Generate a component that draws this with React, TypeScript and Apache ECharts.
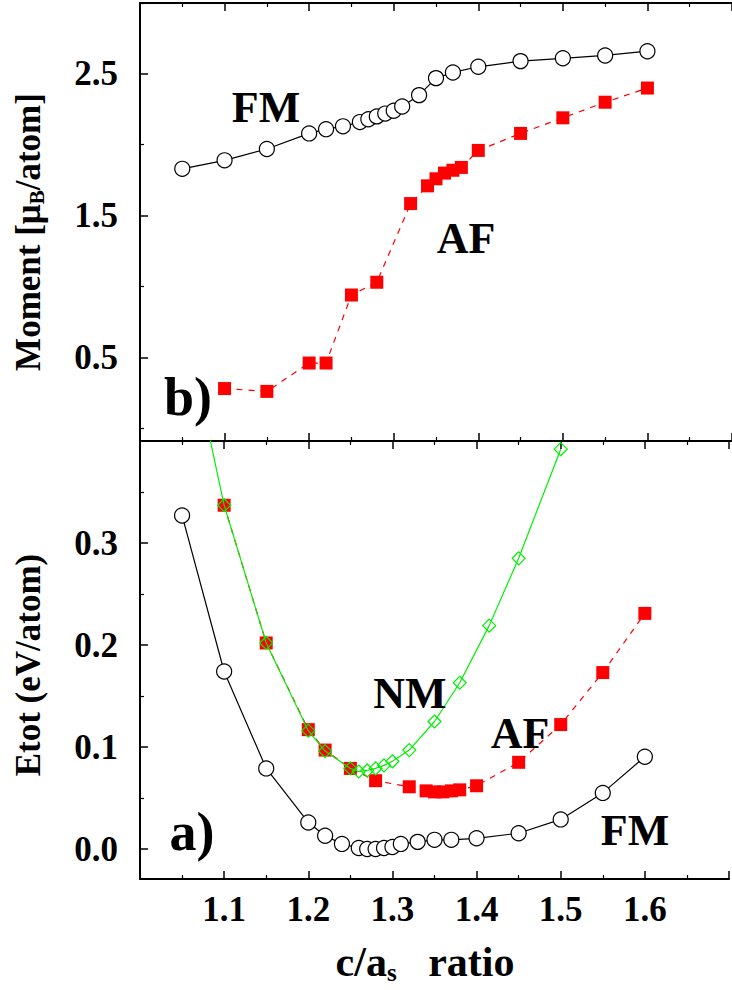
import React, { useEffect, useRef } from "react";
import * as echarts from "echarts";

// ---- data ----
const fmX = [1.05, 1.1, 1.15, 1.2, 1.22, 1.24, 1.26, 1.27, 1.28, 1.29, 1.3, 1.31, 1.33, 1.35, 1.37, 1.4, 1.45, 1.5, 1.55, 1.6];
const fmMoment = [1.83, 1.89, 1.97, 2.08, 2.11, 2.13, 2.16, 2.18, 2.2, 2.22, 2.24, 2.27, 2.35, 2.47, 2.51, 2.55, 2.59, 2.61, 2.63, 2.66];
const fmEnergy = [0.327, 0.174, 0.079, 0.026, 0.013, 0.005, 0.001, 0.0, 0.0, 0.001, 0.002, 0.005, 0.007, 0.009, 0.009, 0.0105, 0.0155, 0.029, 0.055, 0.0905];

const afX = [1.1, 1.15, 1.2, 1.22, 1.25, 1.28, 1.32, 1.34, 1.35, 1.36, 1.37, 1.38, 1.4, 1.45, 1.5, 1.55, 1.6];
const afMoment = [0.28, 0.26, 0.46, 0.46, 0.94, 1.03, 1.585, 1.71, 1.76, 1.8, 1.82, 1.84, 1.96, 2.08, 2.19, 2.3, 2.4];
const afEnergy = [0.337, 0.202, 0.117, 0.097, 0.079, 0.067, 0.061, 0.057, 0.056, 0.056, 0.057, 0.058, 0.062, 0.085, 0.122, 0.173, 0.231];

const nmX = [1.05, 1.1, 1.15, 1.2, 1.22, 1.25, 1.26, 1.27, 1.28, 1.29, 1.3, 1.32, 1.35, 1.38, 1.415, 1.45, 1.5];
const nmEnergy = [0.53, 0.337, 0.202, 0.116, 0.096, 0.079, 0.076, 0.077, 0.079, 0.082, 0.086, 0.097, 0.125, 0.163, 0.219, 0.285, 0.392];

const momentMajor = [0.5, 1.5, 2.5];
const momentMinor = [0, 1, 2, 3];
const energyMajor = [0, 0.1, 0.2, 0.3, 0.4];
const energyLabels = [0, 0.1, 0.2, 0.3];
const energyMinor = [0.05, 0.15, 0.25, 0.35];

const SERIF = "'Liberation Serif', 'Times New Roman', Times, serif";
const RED = "#ff0000";
const GREEN = "#00f000";

const zip = (xs: number[], ys: number[]) => xs.map((x, i) => [x, ys[i]]);

export default function App() {
  const ref = useRef<HTMLDivElement>(null);
  useEffect(() => {
    document.body.style.margin = "0";
    const chart = echarts.init(ref.current!, null, { renderer: "svg" });
    const axisLine = { show: true, onZero: false, lineStyle: { color: "#000", width: 2 } };
    const xBase = (gridIndex: number, position: string, labels: boolean) => ({
      type: "value",
      gridIndex,
      position,
      min: 1.0,
      max: 1.7,
      interval: 0.1,
      axisLine,
      axisTick: { show: true, inside: true, length: 8, lineStyle: { color: "#000", width: 1.5 } },
      minorTick: { show: true, splitNumber: 2, length: 4, lineStyle: { color: "#000", width: 1.2 } },
      splitLine: { show: false },
      axisLabel: labels
        ? {
            show: true,
            margin: 13,
            fontFamily: SERIF,
            fontWeight: "bold",
            fontSize: 35,
            color: "#000",
            formatter: (v: number) => (v > 1.05 && v < 1.65 ? v.toFixed(1) : ""),
          }
        : { show: false },
    });
    const yMajor = (gridIndex: number, min: number, max: number, ticks: number[], labels: number[]) => ({
      type: "value",
      gridIndex,
      position: "left",
      min,
      max,
      axisLine,
      axisTick: { show: true, inside: true, length: 8, customValues: ticks, lineStyle: { color: "#000", width: 1.5 } },
      splitLine: { show: false },
      axisLabel: {
        show: true,
        customValues: labels,
        margin: 22,
        fontFamily: SERIF,
        fontWeight: "bold",
        fontSize: 35,
        color: "#000",
        formatter: (v: number) => v.toFixed(1),
      },
    });
    const yMinor = (gridIndex: number, min: number, max: number, ticks: number[]) => ({
      type: "value",
      gridIndex,
      position: "left",
      min,
      max,
      axisLine: { show: false, onZero: false },
      axisTick: { show: true, inside: true, length: 4, customValues: ticks, lineStyle: { color: "#000", width: 1.2 } },
      splitLine: { show: false },
      axisLabel: { show: false },
    });

    const bigText = (text: string, x: number, y: number, size: number) => ({
      type: "text",
      x,
      y,
      style: {
        text,
        fontFamily: SERIF,
        fontWeight: "bold",
        fontSize: size,
        fill: "#000",
        align: "center",
        verticalAlign: "middle",
      },
      z: 100,
    });

    chart.setOption({
      animation: false,
      backgroundColor: "#fff",
      grid: [
        { left: 140, top: 3, width: 602, height: 438 },
        { left: 140, top: 441, width: 602, height: 438 },
      ],
      xAxis: [xBase(0, "bottom", false), xBase(0, "top", false), xBase(1, "top", false), xBase(1, "bottom", true)],
      yAxis: [
        yMajor(0, -0.09, 3.0, momentMajor, momentMajor),
        yMinor(0, -0.09, 3.0, momentMinor),
        yMajor(1, -0.0294, 0.4, energyMajor, energyLabels),
        yMinor(1, -0.0294, 0.4, energyMinor),
      ],
      series: [
        {
          type: "line",
          xAxisIndex: 0,
          yAxisIndex: 0,
          data: zip(fmX, fmMoment),
          symbol: "circle",
          symbolSize: 15,
          itemStyle: { color: "#fff", borderColor: "#000", borderWidth: 1.2 },
          lineStyle: { color: "#000", width: 1.2 },
          z: 3,
        },
        {
          type: "line",
          xAxisIndex: 0,
          yAxisIndex: 0,
          data: zip(afX, afMoment),
          symbol: "rect",
          symbolSize: 13,
          itemStyle: { color: RED },
          lineStyle: { color: RED, width: 1.2, type: [6, 6] },
          z: 2,
        },
        {
          type: "line",
          xAxisIndex: 3,
          yAxisIndex: 2,
          data: zip(fmX, fmEnergy),
          symbol: "circle",
          symbolSize: 15,
          itemStyle: { color: "#fff", borderColor: "#000", borderWidth: 1.2 },
          lineStyle: { color: "#000", width: 1.2 },
          z: 3,
        },
        {
          type: "line",
          xAxisIndex: 3,
          yAxisIndex: 2,
          data: zip(afX, afEnergy),
          symbol: "rect",
          symbolSize: 13,
          itemStyle: { color: RED },
          lineStyle: { color: RED, width: 1.2, type: [6, 6] },
          z: 2,
        },
        {
          type: "line",
          xAxisIndex: 3,
          yAxisIndex: 2,
          data: zip(nmX, nmEnergy),
          symbol: "diamond",
          symbolSize: 13,
          itemStyle: { color: "rgba(0,0,0,0)", borderColor: GREEN, borderWidth: 1.2 },
          lineStyle: { color: GREEN, width: 1.2 },
          z: 4,
        },
      ],
      graphic: [
        bigText("FM", 266, 107, 44),
        bigText("AF", 466, 238, 44),
        bigText("b)", 188, 397, 54),
        bigText("NM", 410, 693, 44),
        bigText("AF", 520, 733, 44),
        bigText("FM", 635, 830, 44),
        bigText("a)", 192, 832, 54),
        {
          type: "text",
          x: 28,
          y: 232,
          rotation: Math.PI / 2,
          style: {
            text: "{a|Moment [μ}{s|B}{a|/atom]}",
            align: "center",
            verticalAlign: "middle",
            fill: "#000",
            rich: {
              a: { fontFamily: SERIF, fontWeight: "bold", fontSize: 35, lineHeight: 38, verticalAlign: "middle" },
              s: { fontFamily: SERIF, fontWeight: "bold", fontSize: 21, verticalAlign: "bottom" },
            },
          },
        },
        {
          type: "text",
          x: 28,
          y: 665,
          rotation: Math.PI / 2,
          style: {
            text: "Etot (eV/atom)",
            align: "center",
            verticalAlign: "middle",
            fill: "#000",
            fontFamily: SERIF,
            fontWeight: "bold",
            fontSize: 35,
          },
        },
        {
          type: "text",
          x: 425,
          y: 962,
          style: {
            text: "{a|c/a}{s|s}{a|   ratio}",
            align: "center",
            verticalAlign: "middle",
            fill: "#000",
            rich: {
              a: { fontFamily: SERIF, fontWeight: "bold", fontSize: 42, lineHeight: 46, verticalAlign: "middle" },
              s: { fontFamily: SERIF, fontWeight: "bold", fontSize: 25, verticalAlign: "bottom" },
            },
          },
        },
      ],
    });
    return () => chart.dispose();
  }, []);
  return <div ref={ref} style={{ width: 732, height: 990 }} />;
}
